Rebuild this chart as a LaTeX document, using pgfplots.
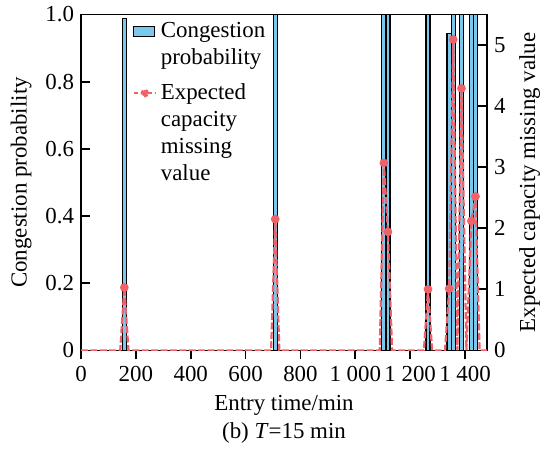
\documentclass[border=0pt]{standalone}
\usepackage{fontspec}
\setmainfont{Liberation Serif}
\usepackage{pgfplots}
\pgfplotsset{compat=1.18}
\definecolor{barblue}{RGB}{122,200,236}
\definecolor{linered}{RGB}{240,98,106}
% legend images sit on the first line of a multi-line entry
\pgfplotsset{
  barlegend/.style={legend image code/.code={\draw[##1] (0bp,4.25bp) rectangle (10.5bp,9.25bp);}},
  linelegend/.style={legend image code/.code={\draw[##1] (0bp,20.25bp) -- (11bp,20.25bp);
    \fill[linered] (5.5bp,20.25bp) circle (1.6bp);}},
}

\begin{document}
\begin{tikzpicture}[font=\fontsize{11.5}{13.5}\selectfont]
\pgfplotsset{
  every axis/.append style={
    width=203bp, height=168bp, scale only axis,
    xmin=0, xmax=1480,
    axis line style={line width=0.9bp},
    every tick/.style={black, line width=0.9bp},
    major tick length=4.5bp,
    tick label style={font=\fontsize{11.5}{13.5}\selectfont},
    label style={font=\fontsize{11.5}{13.5}\selectfont},
    /pgf/number format/assume math mode=true,
  },
}
% congestion probability (bars)
\begin{axis}[name=ax,
  ymin=0, ymax=1,
  xtick={0,200,...,1400},
  /pgf/number format/1000 sep={\ },
  ytick={0,0.2,0.4,0.6,0.8,1},
  yticklabels={0,0.2,0.4,0.6,0.8,1.0},
  xtick pos=bottom, ytick pos=left,
  xlabel={Entry time/min},
  ylabel={Congestion probability},
  ybar, bar width=15,
]
\addplot[fill=barblue, draw=black, line width=0.6bp] table {
x p
158 0.987
708 1
1104 1
1119 1
1265 1
1342 0.943
1357 1
1387 1
1423 1
1438 1
};
\end{axis}
% expected capacity missing value (line)
\begin{axis}[
  ymin=0, ymax=5.5, ytick={0,1,2,3,4,5},
  axis x line=none, axis y line*=right,
  ylabel={Expected capacity missing value},
  legend cell align=left,
  legend style={draw=none, fill=none, at={(0.112,1.0)}, anchor=north west,
    row sep=4bp, cells={align=left}},
]
\addlegendimage{barlegend, fill=barblue, draw=black, line width=0.6bp}
\addlegendimage{linelegend, linered, line width=1bp, dash pattern=on 2bp off 1.5bp}
\addplot[forget plot, linered, line width=1.1bp, dash pattern=on 3.5bp off 1.2bp,
  mark=*, mark size=1.6bp, mark options={solid},
  mark indices={3,6,9,10,13,16,17,19,21,22}] table {
x v
0 0
143 0
158 1.03
173 0
693 0
708 2.15
723 0
1089 0
1104 3.07
1119 1.94
1134 0
1250 0
1265 1.0
1280 0
1327 0
1342 1.01
1357 5.09
1372 0
1387 4.29
1405 0
1423 2.12
1438 2.52
1453 0
1480 0
};
\legend{Congestion\\probability, Expected\\capacity\\missing\\value}
\end{axis}
\node at ([yshift=-41.5bp]ax.south) {(b)\ \textit{T}=15 min};
\path ([xshift=-40.5bp,yshift=-48.5bp]ax.south west) rectangle ([xshift=34bp,yshift=7bp]ax.north east);
\end{tikzpicture}
\end{document}
